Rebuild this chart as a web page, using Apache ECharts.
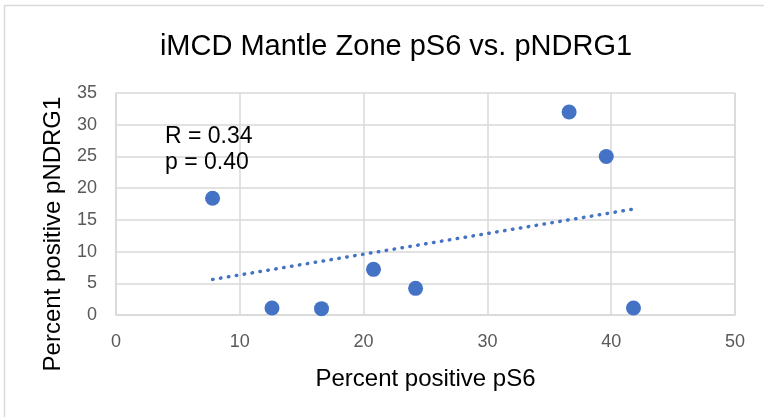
<!DOCTYPE html>
<html lang="en">
<head>
    <meta charset="UTF-8">
    <title>iMCD Mantle Zone pS6 vs. pNDRG1</title>
    <style>
        html, body { margin: 0; padding: 0; background: #fff; }
        #main { width: 764px; height: 417px; }
    </style>
</head>
<body>
    <div id="main"></div>
    <script src="https://cdn.jsdelivr.net/npm/echarts@6/dist/echarts.min.js"></script>
    <script>
        // values
        var pS6 = [7.8, 12.6, 16.6, 20.8, 24.2, 36.6, 39.6, 41.8];
        var pNDRG1 = [18.4, 1.1, 1.0, 7.2, 4.2, 32.0, 25.0, 1.1];
        // end points of the dotted trend line
        var trendX = [7.8, 41.8];
        var trendY = [5.6, 16.7];
        var statLines = ['R = 0.34', 'p = 0.40'];

        var points = pS6.map(function (x, i) { return [x, pNDRG1[i]]; });
        var trend = trendX.map(function (x, i) { return [x, trendY[i]]; });

        var font = 'Liberation Sans, Arial, sans-serif';
        var myChart = echarts.init(document.getElementById('main'));
        var option = {
            animation: false,
            title: {
                text: 'iMCD Mantle Zone pS6 vs. pNDRG1',
                left: 391,
                top: 27,
                textAlign: 'center',
                textStyle: { fontFamily: font, fontSize: 29, fontWeight: 'normal', color: '#000' }
            },
            graphic: [
                {
                    type: 'rect',
                    shape: { x: 4.5, y: 5.5, width: 820, height: 460 },
                    style: { fill: 'none', stroke: '#d9d9d9', lineWidth: 1.5 },
                    silent: true
                },
                {
                    type: 'line',
                    shape: { x1: 735, y1: 93, x2: 735, y2: 315 },
                    style: { stroke: '#d9d9d9', lineWidth: 1.5 },
                    silent: true
                },
                {
                    type: 'text',
                    left: 165,
                    top: 124,
                    z: 100,
                    style: {
                        text: statLines.join('\n'),
                        font: '23px ' + font,
                        fill: '#000',
                        align: 'center',
                        lineHeight: 26
                    }
                }
            ],
            grid: { left: 116, top: 93, width: 619, height: 222 },
            xAxis: {
                type: 'value',
                min: 0, max: 50, interval: 10,
                name: 'Percent positive pS6',
                nameLocation: 'middle',
                nameGap: 52,
                nameTextStyle: { fontFamily: font, fontSize: 24, color: '#000' },
                axisLine: { show: true, lineStyle: { color: '#d9d9d9', width: 1.5 } },
                axisTick: { show: false },
                axisLabel: { fontFamily: font, fontSize: 18, color: '#595959', margin: 18 },
                splitLine: { show: true, lineStyle: { color: '#d9d9d9', width: 1.5 } }
            },
            yAxis: {
                type: 'value',
                min: 0, max: 35, interval: 5,
                name: 'Percent positive pNDRG1',
                nameLocation: 'middle',
                nameGap: 51,
                nameTextStyle: { fontFamily: font, fontSize: 24, color: '#000', padding: [0, 60, 0, 0] },
                axisLine: { show: true, lineStyle: { color: '#d9d9d9', width: 1.5 } },
                axisTick: { show: false },
                axisLabel: { fontFamily: font, fontSize: 18, color: '#595959', margin: 19 },
                splitLine: { show: true, lineStyle: { color: '#d9d9d9', width: 1.5 } }
            },
            series: [
                {
                    name: 'trend',
                    type: 'line',
                    data: trend,
                    symbol: 'none',
                    silent: true,
                    lineStyle: { color: '#4472c4', width: 3.5, type: [0.5, 7.5], cap: 'round' },
                    z: 2
                },
                {
                    name: 'samples',
                    type: 'scatter',
                    data: points,
                    symbolSize: 15,
                    itemStyle: { color: '#4472c4', opacity: 1 },
                    z: 3
                }
            ]
        };
        myChart.setOption(option);
    </script>
</body>
</html>
